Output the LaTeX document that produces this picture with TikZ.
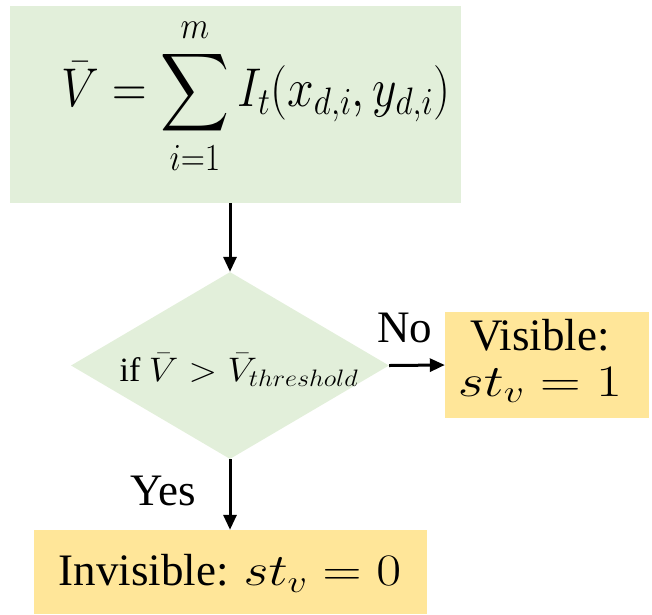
\RequirePackage{fix-cm}
\documentclass[tikz,border=0pt]{standalone}
\usepackage{fontspec}
\setmainfont{Liberation Serif}
\DeclareFontShape{OMX}{cmex}{m}{n}{<-> cmex10}{}
\usetikzlibrary{shapes.geometric,arrows.meta}
\definecolor{boxgreen}{HTML}{E2EFDA}
\definecolor{boxyellow}{HTML}{FFE699}
\tikzset{
  greenbox/.style={fill=boxgreen, draw=none, inner sep=0pt},
  yellowbox/.style={fill=boxyellow, draw=none, inner sep=0pt, align=center},
  decision/.style={diamond, fill=boxgreen, draw=none, inner sep=0pt},
  arr/.style={line width=3pt, -{Triangle[length=15pt,width=13pt]}},
  lbl/.style={inner sep=0pt, font=\fontsize{45}{50}\selectfont}
}
\begin{document}
\begin{tikzpicture}[x=1pt,y=-1pt]
\useasboundingbox (0,0) rectangle (652,614);
\node[greenbox, minimum width=451pt, minimum height=197pt] (top) at (235.5,104.5) {};
\node[inner sep=0pt, font=\fontsize{52}{60}\selectfont] (formula) at (256,96)
  {\scalebox{0.92}[1.05]{$\displaystyle \bar{V} = \sum_{i=1}^{m} I_t(x_{d,i}, y_{d,i})$}};
\node[decision, minimum width=318pt, minimum height=187pt] (dia) at (230,365.5) {};
\node[lbl, font=\fontsize{34}{40}\selectfont] (cond) at (239,370)
  {if \scalebox{1.1}[1.0]{$\bar{V} > \bar{V}_{threshold}$}};
\node[yellowbox, minimum width=204pt, minimum height=106pt] (vis) at (547,365) {};
\node[lbl] (vistext) at (540,363)
  {\begin{tabular}{@{}c@{}}Visible:\\[-4pt]\scalebox{1.25}[1.0]{$st_v = 1$}\end{tabular}};
\node[yellowbox, minimum width=393pt, minimum height=84pt] (inv) at (230.5,572) {};
\node[lbl] (invtext) at (230,573) {Invisible: \scalebox{1.2}[1.0]{$st_v = 0$}};
\draw[arr] (top.south -| dia.north) -- (dia.north);
\draw[arr] (dia.east) -- (vis.west);
\draw[arr] (dia.south) -- (inv.north -| dia.south);
\node[lbl, anchor=base] (no) at (405,342) {No};
\node[lbl, anchor=base] (yes) at (163,505) {Yes};
\end{tikzpicture}
\end{document}
